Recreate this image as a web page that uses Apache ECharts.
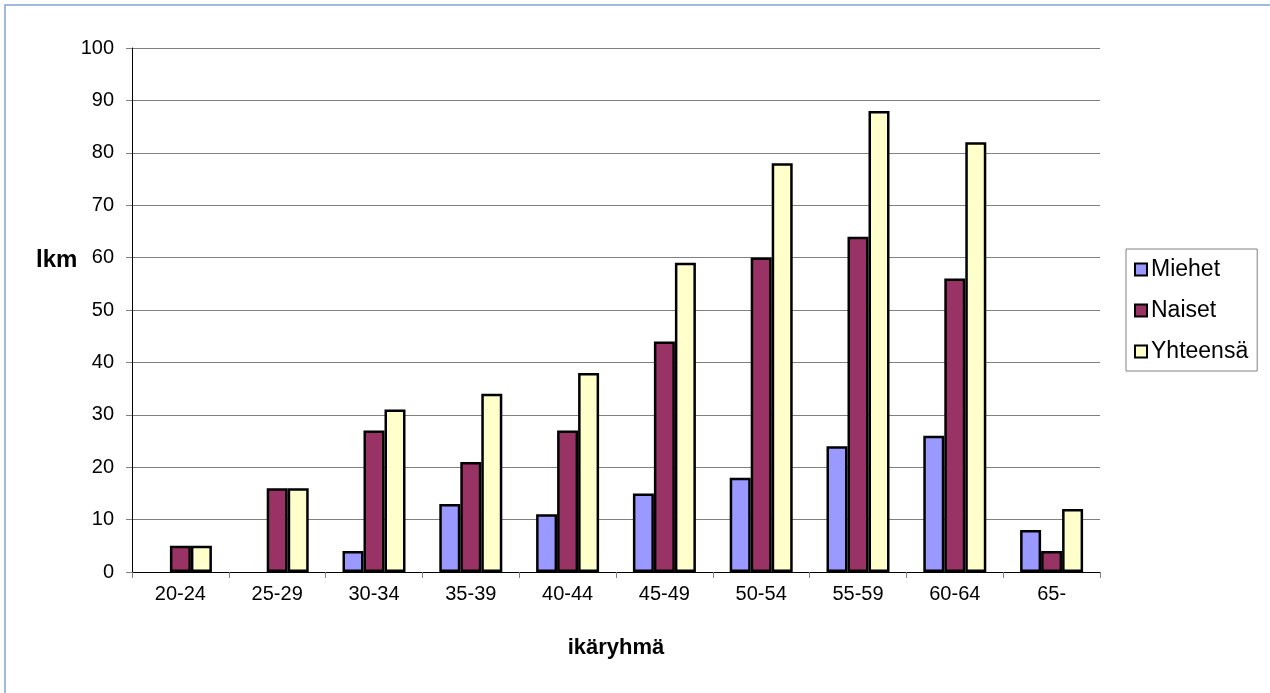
<!DOCTYPE html>
<html>
<head>
<meta charset="utf-8">
<script src="https://cdn.jsdelivr.net/npm/echarts@6/dist/echarts.min.js"></script>
<style>html,body{margin:0;padding:0;background:#fff;}#c{width:1270px;height:693px;}</style>
</head>
<body>
<div id="c"></div>
<script>
const categories = ['20-24','25-29','30-34','35-39','40-44','45-49','50-54','55-59','60-64','65-'];
const miehet = [0,0,4,13,11,15,18,24,26,8];
const naiset = [5,16,27,21,27,44,60,64,56,4];
const yhteensa = [5,16,31,34,38,59,78,88,82,12];
const seriesNames = ['Miehet','Naiset','Yhteensä'];
const colors = ['#9999FF','#993366','#FFFFCC'];

const chart = echarts.init(document.getElementById('c'));
const font = 'Liberation Sans, Arial, sans-serif';
const mk = (name, data, color) => ({
  name, type:'bar', data: data.map(v => v === 0 ? null : v), barWidth:21, barGap:'0%',
  itemStyle:{color, borderColor:'#000', borderWidth:2.5},
  emphasis:{disabled:true}
});
chart.setOption({
  animation:false,
  textStyle:{fontFamily:font},
  graphic:[
    {type:'rect', shape:{x:5,y:5,width:1300,height:720}, style:{fill:'none',stroke:'#7FA3DB',lineWidth:1.5}, silent:true},
    {type:'text', left:36, top:248, style:{text:'lkm', font:'bold 24px '+font, fill:'#000'}}
  ],
  grid:{left:132, right:170, top:48, bottom:121, containLabel:false},
  legend:{
    orient:'vertical', left:1126, top:249,
    data:seriesNames,
    icon:'rect',
    itemWidth:12, itemHeight:12, itemGap:18,
    padding:[9,9,8,8],
    borderColor:'#808080', borderWidth:1,
    itemStyle:{borderColor:'#000', borderWidth:2},
    textStyle:{fontSize:23, color:'#000', fontFamily:font, padding:[0,0,0,-1]},
    selectedMode:false
  },
  xAxis:{
    type:'category', data:categories,
    name:'ikäryhmä', nameLocation:'middle', nameGap:65,
    nameTextStyle:{fontSize:22, fontWeight:'bold', color:'#000'},
    axisLine:{lineStyle:{color:'#000', width:1}},
    axisTick:{show:true, length:6, lineStyle:{color:'#808080'}},
    axisLabel:{fontSize:20, color:'#000', margin:12}
  },
  yAxis:{
    type:'value', min:0, max:100, interval:10,
    axisLine:{show:true, lineStyle:{color:'#000', width:1}},
    axisTick:{show:true, length:6, lineStyle:{color:'#808080'}},
    axisLabel:{fontSize:20, color:'#000', margin:18},
    splitLine:{lineStyle:{color:'#808080', width:1}}
  },
  series:[mk(seriesNames[0], miehet, colors[0]), mk(seriesNames[1], naiset, colors[1]), mk(seriesNames[2], yhteensa, colors[2])]
});
</script>
</body>
</html>
